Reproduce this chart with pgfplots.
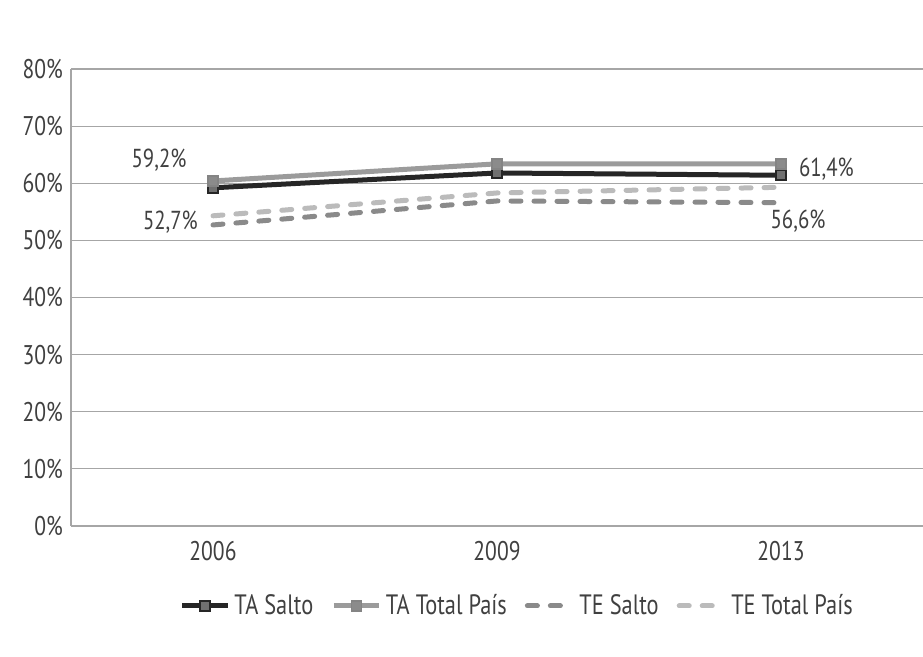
\documentclass[border=0pt]{standalone}
\usepackage{pgfplots}
\pgfplotsset{compat=1.18}
\usepackage{fontspec}
\setmainfont{PT Sans}[FakeStretch=0.8]
\definecolor{txt}{HTML}{404040}
\definecolor{gridc}{HTML}{A6A6A6}
\definecolor{tasalto}{HTML}{262626}
\definecolor{tasaltom}{HTML}{707070}
\definecolor{tatotal}{HTML}{9B9B9B}
\definecolor{tesalto}{HTML}{8A8A8A}
\definecolor{tetotal}{HTML}{BBBBBB}
\begin{document}
\begin{tikzpicture}
\useasboundingbox (0,0) rectangle (461.5pt,328.5pt);
\begin{axis}[
  at={(35.5pt,65.5pt)}, anchor=south west,
  scale only axis, width=426pt, height=228.5pt,
  xmin=-0.5, xmax=2.5, ymin=0, ymax=80,
  xtick={0,1,2}, xticklabels={2006,2009,2013},
  ytick={0,10,...,80},
  yticklabel={\pgfmathprintnumber{\tick}\%},
  /pgf/number format/assume math mode=true,
  axis x line*=bottom, axis y line*=left,
  axis line style={gridc, line width=0.6pt, -},
  ymajorgrids, grid style={gridc, line width=0.6pt},
  major tick length=0pt,
  tick label style={font=\fontsize{13.5}{15}\selectfont, text=txt},
  yticklabel style={xshift=-0.5pt},
  xticklabel style={yshift=-4pt},
  legend columns=4,
  legend style={draw=none, fill=none, at={(0.525,-0.175)}, anchor=center,
    font=\fontsize{14}{16}\selectfont, text=txt,
    /tikz/every even column/.append style={column sep=7pt}},
  legend cell align=left,
  legend image code/.code={\draw[mark repeat=2,mark phase=2] plot coordinates {(0cm,0cm)(0.4cm,0cm)(0.8cm,0cm)};},
  clip=false,
]
\addplot[tasalto, line width=2.5pt, mark=square*, mark size=2.5pt,
  mark options={fill=tasaltom, draw=tasalto, line width=0.8pt, solid}]
  coordinates {(0,59.2) (1,61.8) (2,61.4)};
\addlegendentry{TA Salto}
\addplot[tatotal, line width=2.5pt, mark=square*, mark size=2.5pt,
  mark options={fill=tatotal!90!black, draw=tatotal!85!black, line width=0.8pt, solid}]
  coordinates {(0,60.4) (1,63.4) (2,63.4)};
\addlegendentry{TA Total País}
\addplot[tesalto, line width=2.5pt, line cap=round, dash pattern=on 5pt off 6.5pt]
  coordinates {(0,52.7) (1,56.9) (2,56.6)};
\addlegendentry{TE Salto}
\addplot[tetotal, line width=2.5pt, line cap=round, dash pattern=on 5pt off 6.5pt]
  coordinates {(0,54.3) (1,58.3) (2,59.3)};
\addlegendentry{TE Total País}
\node[text=txt, font=\fontsize{13}{15}\selectfont] at (axis cs:-0.19,64.1) {59,2\%};
\node[text=txt, font=\fontsize{13}{15}\selectfont] at (axis cs:-0.15,53.2) {52,7\%};
\node[text=txt, font=\fontsize{13}{15}\selectfont] at (axis cs:2.16,62.5) {61,4\%};
\node[text=txt, font=\fontsize{13}{15}\selectfont] at (axis cs:2.06,53.4) {56,6\%};
\end{axis}
\end{tikzpicture}
\end{document}
